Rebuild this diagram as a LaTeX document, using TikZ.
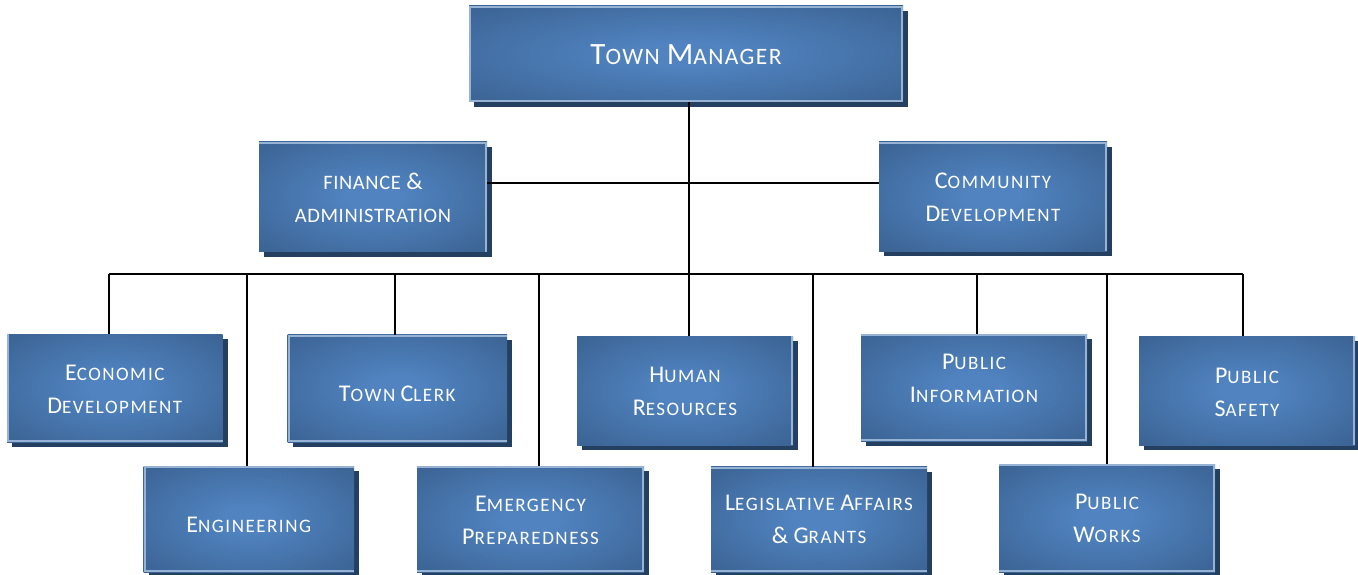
\documentclass[tikz,border=0pt]{standalone}
\usepackage{fontspec}
\setmainfont{Carlito}
\usetikzlibrary{backgrounds}
\definecolor{boxin}{RGB}{80,131,192}
\definecolor{boxout}{RGB}{56,94,140}
\definecolor{boxshadow}{RGB}{37,63,97}
\definecolor{boxlite}{RGB}{150,178,212}
\pgfdeclareradialshading{boxglow}{\pgfpoint{0bp}{0bp}}{color(0bp)=(boxin); color(6bp)=(boxin); color(40bp)=(boxout); color(72bp)=(boxout)}
\newcommand\SmL[1]{{\fontsize{19}{33}\selectfont\addfontfeature{LetterSpace=8}#1}}
\newcommand\SmF[1]{{\fontsize{20.5}{33}\selectfont\addfontfeature{LetterSpace=3}#1}}
\newcommand\SmT[1]{{\fontsize{23.5}{33}\selectfont\addfontfeature{LetterSpace=6}#1}}
\newcommand\Ltop[1]{\draw[lite] ([yshift=-1.2pt]#1.north west) -- ([yshift=-1.2pt]#1.north east);}
\newcommand\Lbot[1]{\draw[lite] ([yshift=1.2pt]#1.south west) -- ([yshift=1.2pt]#1.south east);}
\newcommand\Lleft[1]{\draw[lite] ([xshift=1.2pt]#1.north west) -- ([xshift=1.2pt]#1.south west);}
\newcommand\Lright[1]{\draw[lite] ([xshift=-1.2pt]#1.north east) -- ([xshift=-1.2pt]#1.south east);}
\newcommand\Shad[1]{\fill[boxshadow] ([shift={(5pt,-5pt)}]#1.north west) rectangle ([shift={(5pt,-5pt)}]#1.south east);}
\tikzset{
  orgbox/.style={rectangle, inner sep=0pt, outer sep=0pt, shading=boxglow},
  boxtext/.style={inner sep=0pt, text=white, align=center, font=\fontsize{24}{33}\selectfont},
  lite/.style={draw=boxlite, line width=2.4pt},
  link/.style={draw=black, line width=2pt}
}
\begin{document}
\begin{tikzpicture}[x=1pt,y=-1pt]
\useasboundingbox (0,0) rectangle (1358,575);
% boxes
\node[orgbox, minimum width=434pt, minimum height=96pt] (tm) at (686,54) {};
\node[orgbox, minimum width=228pt, minimum height=109.5pt] (fin) at (373,196.75) {};
\node[orgbox, minimum width=228pt, minimum height=109pt] (com) at (993,196.5) {};
\node[orgbox, minimum width=215.5pt, minimum height=108pt] (econ) at (114.75,388) {};
\node[orgbox, minimum width=210.5pt, minimum height=106pt] (eng) at (248.75,519) {};
\node[orgbox, minimum width=219.5pt, minimum height=107.5pt] (clerk) at (397.25,388.25) {};
\node[orgbox, minimum width=227pt, minimum height=106pt] (emerg) at (530.5,519) {};
\node[orgbox, minimum width=216pt, minimum height=109pt] (hr) at (685,390.5) {};
\node[orgbox, minimum width=216pt, minimum height=105.5pt] (leg) at (819,519.25) {};
\node[orgbox, minimum width=226pt, minimum height=107pt] (pinfo) at (974,387.5) {};
\node[orgbox, minimum width=216pt, minimum height=108pt] (pworks) at (1107,518) {};
\node[orgbox, minimum width=216pt, minimum height=109pt] (psafe) at (1247,390.5) {};
% light bevel edges
\Ltop{tm}\Lbot{tm}\Lleft{tm}\Lright{tm}
\Ltop{fin}\Lright{fin}
\Ltop{com}\Lright{com}
\Lleft{econ}\Lbot{econ}
\Lleft{eng}\Ltop{eng}\Lbot{eng}
\Lleft{clerk}\Ltop{clerk}\Lbot{clerk}
\Ltop{emerg}\Lright{emerg}\Lbot{emerg}
\Lright{hr}
\Ltop{leg}\Lbot{leg}
\Ltop{pinfo}\Lright{pinfo}\Lbot{pinfo}
\Ltop{pworks}\Lright{pworks}\Lbot{pworks}
\Lright{psafe}
% texts
\node[boxtext, font=\fontsize{31}{33}\selectfont] (tm-t) at ([yshift=-1pt]tm.center) {T\SmT{OWN} M\SmT{ANAGER}};
\node[boxtext] (fin-t) at ([yshift=-1pt]fin.center) {\SmF{FINANCE} \&\\\SmF{ADMINISTRATION}};
\node[boxtext] (com-t) at ([yshift=-1pt]com.center) {C\SmL{OMMUNITY}\\D\SmL{EVELOPMENT}};
\node[boxtext] (econ-t) at ([yshift=-1.5pt]econ.center) {E\SmL{CONOMIC}\\D\SmL{EVELOPMENT}};
\node[boxtext] (eng-t) at ([yshift=-6pt]eng.center) {E\SmL{NGINEERING}};
\node[boxtext] (clerk-t) at ([yshift=-6pt]clerk.center) {T\SmL{OWN} C\SmL{LERK}};
\node[boxtext] (emerg-t) at ([yshift=-1pt]emerg.center) {E\SmL{MERGENCY}\\P\SmL{REPAREDNESS}};
\node[boxtext] (hr-t) at ([yshift=-1pt]hr.center) {H\SmL{UMAN}\\R\SmL{ESOURCES}};
\node[boxtext] (leg-t) at ([yshift=-0.5pt]leg.center) {L\SmL{EGISLATIVE} A\SmL{FFAIRS}\\\& G\SmL{RANTS}};
\node[boxtext] (pinfo-t) at ([yshift=9pt]pinfo.center) {P\SmL{UBLIC}\\I\SmL{NFORMATION}};
\node[boxtext] (pworks-t) at (pworks.center) {P\SmL{UBLIC}\\W\SmL{ORKS}};
\node[boxtext] (psafe-t) at ([yshift=-1.5pt]psafe.center) {P\SmL{UBLIC}\\S\SmL{AFETY}};
% shadows
\begin{scope}[on background layer]
\Shad{tm}\Shad{fin}\Shad{com}\Shad{econ}\Shad{eng}\Shad{clerk}
\Shad{emerg}\Shad{hr}\Shad{leg}\Shad{pinfo}\Shad{pworks}\Shad{psafe}
\end{scope}
% connectors
\coordinate (mid) at (689,183);
\coordinate (hub) at (689,274);
\coordinate (t1) at (109,274);
\coordinate (t2) at (246.5,274);
\coordinate (t3) at (395,274);
\coordinate (t4) at (539,274);
\coordinate (t6) at (813,274);
\coordinate (t7) at (977,274);
\coordinate (t8) at (1107,274);
\coordinate (t9) at (1243,274);
\draw[link] (tm.south -| hub) -- (hub);
\draw[link] (fin.east |- mid) -- (com.west |- mid);
\draw[link] (t1) -- (t9);
\draw[link] (t1) -- (t1 |- econ.north);
\draw[link] (t2) -- (t2 |- eng.north);
\draw[link] (t3) -- (t3 |- clerk.north);
\draw[link] (t4) -- (t4 |- emerg.north);
\draw[link] (hub) -- (hub |- hr.north);
\draw[link] (t6) -- (t6 |- leg.north);
\draw[link] (t7) -- (t7 |- pinfo.north);
\draw[link] (t8) -- (t8 |- pworks.north);
\draw[link] (t9) -- (t9 |- psafe.north);
\end{tikzpicture}
\end{document}
